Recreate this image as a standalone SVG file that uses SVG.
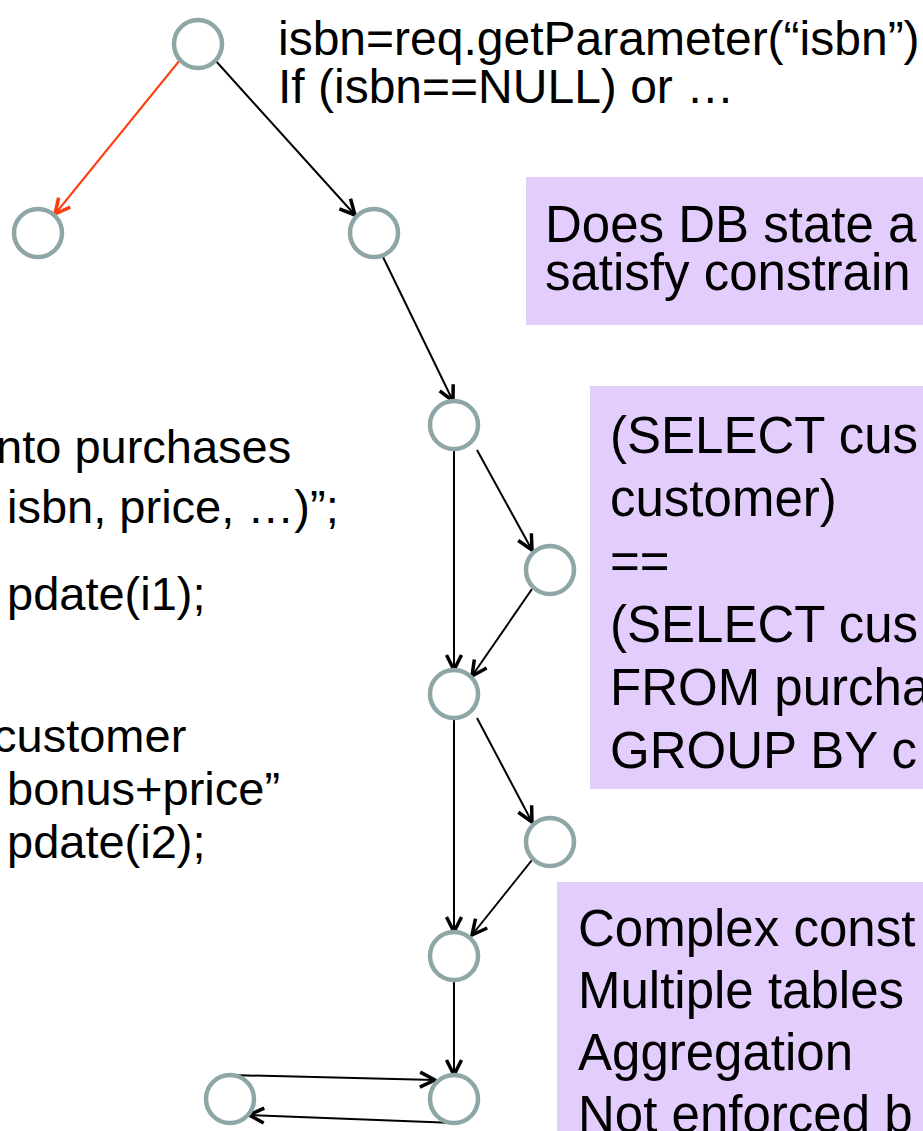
<svg xmlns="http://www.w3.org/2000/svg" width="923" height="1131" viewBox="0 0 923 1131">
  <style>
    .node { fill: #ffffff; stroke: #8FA6A6; stroke-width: 4.5; }
    .edge { stroke: #000000; stroke-width: 2; fill: none; }
    .edge-red { stroke: #FF3D0F; stroke-width: 2; fill: none; }
    .note { fill: #E3CDFC; }
    .code { font-family: "Liberation Sans", Arial, sans-serif; font-size: 47px; fill: #000000; }
    .code-top { font-family: "Liberation Sans", Arial, sans-serif; font-size: 48px; fill: #000000; }
    .box-text { font-family: "Liberation Sans", Arial, sans-serif; font-size: 51px; fill: #000000; }
  </style>
  <defs>
    <marker id="arrow" markerUnits="userSpaceOnUse" viewBox="0 0 20 20" markerWidth="20" markerHeight="20" refX="18" refY="10" orient="auto">
      <path d="M3,2.5 L18,10 L3,17.5" fill="none" stroke="#000000" stroke-width="3.5" stroke-linejoin="round" stroke-linecap="butt"/>
    </marker>
    <marker id="arrow-red" markerUnits="userSpaceOnUse" viewBox="0 0 20 20" markerWidth="20" markerHeight="20" refX="18" refY="10" orient="auto">
      <path d="M3,2.5 L18,10 L3,17.5" fill="none" stroke="#FF3D0F" stroke-width="3.5" stroke-linejoin="round" stroke-linecap="butt"/>
    </marker>
  </defs>

  <rect width="923" height="1131" fill="#ffffff"/>

  <!-- code fragments -->
  <g id="code-top">
    <text class="code-top" x="278" y="55">isbn=req.getParameter(“isbn”)</text>
    <text class="code-top" x="278" y="103">If (isbn==NULL) or …</text>
  </g>
  <g id="code-left">
    <text class="code" x="-4" y="463">nto purchases</text>
    <text class="code" x="7" y="523">isbn, price, …)”;</text>
    <text class="code" x="7" y="610">pdate(i1);</text>
    <text class="code" x="-7" y="752">customer</text>
    <text class="code" x="7" y="805">bonus+price”</text>
    <text class="code" x="7" y="858">pdate(i2);</text>
  </g>

  <!-- annotation boxes -->
  <g id="note-db-state">
    <rect class="note" x="526" y="177" width="400" height="148"/>
    <text class="box-text" x="545" y="242" font-size="52">Does DB state a</text>
    <text class="box-text" x="545" y="290" font-size="52">satisfy constrain</text>
  </g>
  <g id="note-sql">
    <rect class="note" x="590" y="386" width="336" height="403"/>
    <text class="box-text" x="610" y="453">(SELECT cus</text>
    <text class="box-text" x="610" y="516">customer)</text>
    <text class="box-text" x="610" y="579">==</text>
    <text class="box-text" x="610" y="642">(SELECT cus</text>
    <text class="box-text" x="610" y="705">FROM purcha</text>
    <text class="box-text" x="610" y="768">GROUP BY c</text>
  </g>
  <g id="note-complex">
    <rect class="note" x="557" y="882" width="370" height="252"/>
    <text class="box-text" x="578" y="946">Complex const</text>
    <text class="box-text" x="578" y="1008">Multiple tables</text>
    <text class="box-text" x="578" y="1070">Aggregation</text>
    <text class="box-text" x="578" y="1132">Not enforced b</text>
  </g>

  <!-- control-flow edges -->
  <g id="edges">
    <line class="edge-red" x1="180" y1="60" x2="55" y2="214" marker-end="url(#arrow-red)"/>
    <line class="edge" x1="215" y1="60" x2="355" y2="215" marker-end="url(#arrow)"/>
    <line class="edge" x1="383" y1="257" x2="453" y2="401" marker-end="url(#arrow)"/>
    <line class="edge" x1="454" y1="450" x2="454" y2="670" marker-end="url(#arrow)"/>
    <line class="edge" x1="477" y1="450" x2="532" y2="550" marker-end="url(#arrow)"/>
    <line class="edge" x1="532" y1="589" x2="472" y2="676" marker-end="url(#arrow)"/>
    <line class="edge" x1="454" y1="718" x2="454" y2="932" marker-end="url(#arrow)"/>
    <line class="edge" x1="477" y1="718" x2="532" y2="822" marker-end="url(#arrow)"/>
    <line class="edge" x1="532" y1="860" x2="472" y2="935" marker-end="url(#arrow)"/>
    <line class="edge" x1="454" y1="980" x2="454" y2="1075" marker-end="url(#arrow)"/>
    <line class="edge" x1="230" y1="1075" x2="435" y2="1080" marker-end="url(#arrow)"/>
    <line class="edge" x1="455" y1="1123" x2="249" y2="1115" marker-end="url(#arrow)"/>
  </g>

  <!-- program points -->
  <g id="n0"><circle class="node" cx="198" cy="44" r="24"/></g>
  <g id="n1"><circle class="node" cx="38" cy="233" r="24"/></g>
  <g id="n2"><circle class="node" cx="374" cy="233" r="24"/></g>
  <g id="n3"><circle class="node" cx="454" cy="425" r="24"/></g>
  <g id="n4"><circle class="node" cx="550" cy="570" r="24"/></g>
  <g id="n5"><circle class="node" cx="454" cy="694" r="24"/></g>
  <g id="n6"><circle class="node" cx="550" cy="842" r="24"/></g>
  <g id="n7"><circle class="node" cx="454" cy="956" r="24"/></g>
  <g id="n8"><circle class="node" cx="454" cy="1099" r="24"/></g>
  <g id="n9"><circle class="node" cx="230" cy="1099" r="24"/></g>
</svg>
